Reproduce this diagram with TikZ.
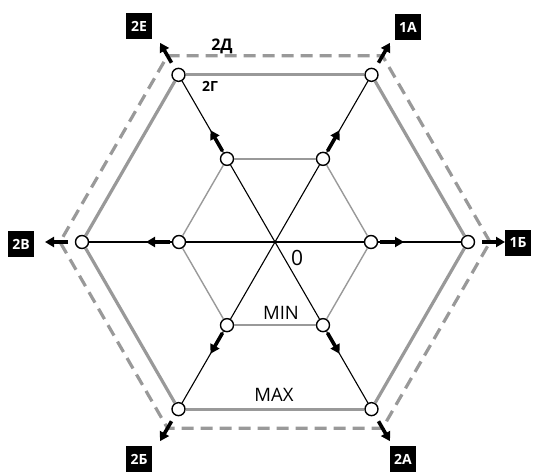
\documentclass[tikz,border=0pt]{standalone}
\usepackage{fontspec}
\setmainfont{Open Sans}
\usetikzlibrary{arrows.meta}
\definecolor{hexgray}{HTML}{999999}
\begin{document}
\begin{tikzpicture}[x=1pt,y=1pt,
  outerhex/.style={draw=hexgray, line width=3.2pt},
  dashhex/.style={draw=hexgray, line width=3.2pt, dash pattern=on 12pt off 7pt},
  innerhex/.style={draw=hexgray, line width=1.4pt},
  spoke/.style={draw=black, line width=1.1pt},
  vtx/.style={circle, draw=black, fill=white, line width=1.4pt, minimum size=13pt, inner sep=0pt},
  arr/.style={-{Triangle[length=9pt,width=10pt]}, line width=3.6pt, draw=black},
  tag/.style={fill=black, text=white, font=\bfseries\fontsize{14}{14}\selectfont, minimum size=26pt, inner sep=0pt},
  boldlbl/.style={font=\bfseries\fontsize{16}{16}\selectfont, inner sep=0pt},
  plainlbl/.style={font=\fontsize{18.5}{18.5}\selectfont, inner sep=0pt}
]
\useasboundingbox (0,0) rectangle (535,-473);
\coordinate (C) at (275,-242);
\begin{scope}[shift={(275,-242)}]
  \foreach \a/\n in {0/a,60/b,120/c,180/d,240/e,300/f}{
    \coordinate (d\n) at (\a:215);
    \node[vtx] (o\n) at (\a:193) {};
    \node[vtx] (i\n) at (\a:96) {};
    \coordinate (ias\n) at (\a:105);
    \coordinate (iae\n) at (\a:129);
    \coordinate (oas\n) at (\a:207);
    \coordinate (oae\n) at (\a:230);
  }
\end{scope}
% dashed hexagon
\draw[dashhex] (da) -- (db) -- (dc) -- (dd) -- (de) -- (df) -- cycle;
% outer and inner hexagons
\foreach \p/\q in {a/b,b/c,c/d,d/e,e/f,f/a}{
  \draw[outerhex] (o\p) -- (o\q);
  \draw[innerhex] (i\p) -- (i\q);
}
% spokes
\foreach \n in {a,b,c,d,e,f}{
  \draw[spoke] (C) -- (i\n);
  \draw[spoke] (i\n) -- (o\n);
  \draw[arr] (ias\n) -- (iae\n);
  \draw[arr] (oas\n) -- (oae\n);
}
% tags
\node[tag] (t1a) at (408,-27) {1А};
\node[tag] (t2e) at (139,-26) {2Е};
\node[tag] (t1b) at (518,-243) {1Б};
\node[tag] (t2v) at (21,-244) {2В};
\node[tag] (t2b) at (139,-459) {2Б};
\node[tag] (t2a) at (403,-459) {2А};
% labels
\node[boldlbl] (l2d) at (222,-46) {2Д};
\node[boldlbl, font=\bfseries\fontsize{14}{14}\selectfont] (l2g) at (210,-86) {2Г};
\node[plainlbl, font=\fontsize{21}{21}\selectfont] (l0) at (297,-258) {0};
\node[plainlbl] (lmin) at (281,-313) {MIN};
\node[plainlbl] (lmax) at (274,-395) {MAX};
\end{tikzpicture}
\end{document}
